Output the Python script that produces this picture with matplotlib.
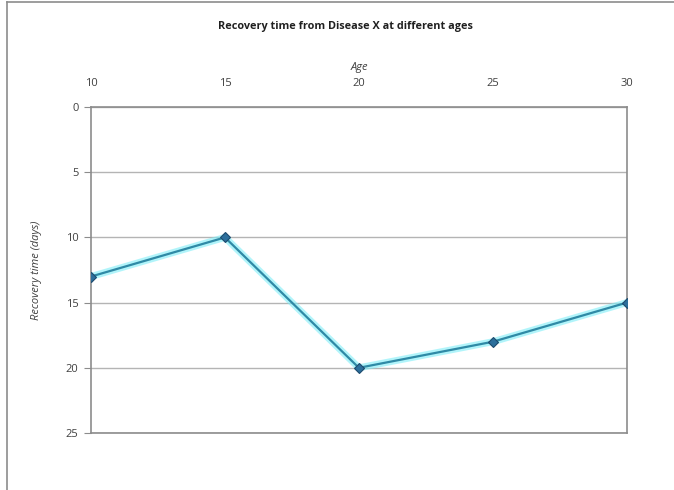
import matplotlib.pyplot as plt
from matplotlib.lines import Line2D

ages = [10, 15, 20, 25, 30]
recovery_days = [13, 10, 20, 18, 15]
y_ticks = [0, 5, 10, 15, 20, 25]

plt.rcParams['font.family'] = ['Open Sans', 'DejaVu Sans']

fig = plt.figure(figsize=(6.74, 4.90), dpi=100)
ax = fig.add_axes([0.135, 0.1163, 0.795, 0.6653])

# outer chart border (top and left visible)
fig.add_artist(Line2D([7/674, 7/674], [0, 1 - 2/490], color='#8c8c8c', lw=1.2))
fig.add_artist(Line2D([7/674, 1], [1 - 2/490, 1 - 2/490], color='#8c8c8c', lw=1.2))

# glow + line
ax.plot(ages, recovery_days, color='#7eeef8', lw=5, alpha=0.6, zorder=3, solid_capstyle='round')
ax.plot(ages, recovery_days, color='#2f8aa6', lw=1.6, zorder=4,
        marker='D', markersize=5.5, markerfacecolor='#2c6f9c', markeredgecolor='#1d4b6e',
        markeredgewidth=0.8)

ax.set_xlim(10, 30)
ax.set_ylim(25, 0)
ax.set_xticks(ages)
ax.set_yticks(y_ticks)
ax.xaxis.tick_top()
ax.xaxis.set_label_position('top')
ax.tick_params(axis='x', length=0, labelsize=8, labelcolor='#404040', pad=13)
ax.tick_params(axis='y', length=5, color='#8c8c8c', labelsize=8, labelcolor='#404040', pad=4)

ax.grid(axis='y', color='#b4b4b4', lw=1)
ax.set_axisbelow(True)
for s in ax.spines.values():
    s.set_color('#8c8c8c')
    s.set_linewidth(1.2)

ax.set_xlabel('Age', fontsize=8, style='italic', color='#404040', labelpad=6)
ax.set_ylabel('Recovery time (days)', fontsize=8, style='italic', color='#404040', labelpad=17)
fig.text(0.512, 1 - 27/490, 'Recovery time from Disease X at different ages',
         ha='center', va='center', fontsize=7.8, fontweight='bold', color='#202020')

fig.savefig('out.png', dpi=100)
